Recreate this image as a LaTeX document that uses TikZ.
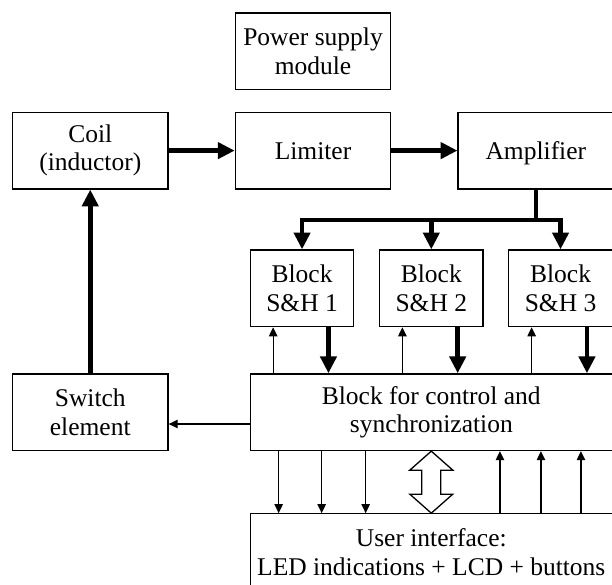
\documentclass[tikz,border=0pt]{standalone}
\usepackage{fontspec}
\setmainfont{Liberation Serif}
\usepackage{tikz}
\usetikzlibrary{arrows.meta,positioning}

\begin{document}
\begin{tikzpicture}[
  node distance=33pt,
  box/.style={draw, line width=0.65pt, minimum width=77.75pt, minimum height=38.3pt, align=center, inner sep=2pt, font=\fontsize{12.75}{14.15}\selectfont},
  onebox/.style={box, text height=8.4pt, text depth=0pt},
  shbox/.style={box, minimum width=51.75pt},
  widebox/.style={box, minimum width=181pt},
  thk/.style={-{Triangle[length=8.4pt,width=8pt]}, line width=2.3pt},
  thn/.style={-{Triangle[length=4.5pt,width=4.2pt]}, line width=0.65pt}
]
\useasboundingbox (0,0) rectangle (306pt,-292.5pt);
\node[box] (coil) at (45.125pt,-75.3pt) {Coil\\(inductor)};
\node[onebox, right=of coil] (limiter) {Limiter};
\node[onebox, right=of limiter] (amp) {Amplifier};
\node[box, above=10.65pt of limiter] (power) {Power supply\\module};
\node[box, below=91.85pt of coil] (switch) {Switch\\element};
\node[widebox, right=40.5pt of switch] (ctrl) {Block for control and\\synchronization};
\node[shbox, above=23pt of ctrl] (sh2) {Block\\S\&H 2};
\node[shbox, anchor=south west] (sh1) at ([yshift=23pt]ctrl.north west) {Block\\S\&H 1};
\node[shbox, anchor=south east] (sh3) at ([yshift=23pt]ctrl.north east) {Block\\S\&H 3};
\node[widebox, below=31pt of ctrl] (ui) {User interface:\\LED indications + LCD + buttons};

\draw[thk] (coil) -- (limiter);
\draw[thk] (limiter) -- (amp);
\coordinate (bus) at ([yshift=-15.15pt]amp.south);
\draw[line width=2.3pt] (amp.south) -- (bus);
\foreach \s in {sh1,sh2,sh3}
  \draw[thk] (bus) -| (\s);
\foreach \s in {sh1,sh2,sh3} {
  \draw[thk] ([xshift=-13pt]\s.south east) -- ([xshift=-13pt]\s.south east |- ctrl.north);
  \draw[thn] ([xshift=11.75pt]\s.south west |- ctrl.north) -- ([xshift=11.75pt]\s.south west);
}
\draw[thn] ([yshift=-5.9pt]ctrl.west) -- ([yshift=-5.9pt]ctrl.west -| switch.east);
\draw[thk] (switch) -- (coil);
% user interface links
\foreach \dx in {14.5,36,58}
  \draw[thn] ([xshift=\dx pt]ctrl.south west) -- ([xshift=\dx pt]ctrl.south west |- ui.north);
\foreach \dx in {56.5,36,16}
  \draw[thn] ([xshift=-\dx pt]ctrl.south east |- ui.north) -- ([xshift=-\dx pt]ctrl.south east);
\draw[line width=0.65pt, fill=white] (ctrl.south) -- ++(10.75pt,-9.5pt) -- ++(-6pt,0) -- ++(0,-12pt) -- ++(6pt,0)
  -- (ui.north) -- ++(-10.75pt,9.5pt) -- ++(6pt,0) -- ++(0,12pt) -- ++(-6pt,0) -- cycle;
\end{tikzpicture}
\end{document}
